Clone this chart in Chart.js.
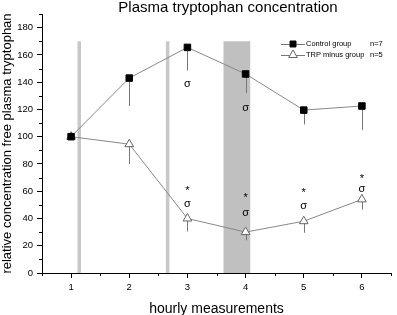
<!DOCTYPE html>
<html>
<head>
<meta charset="utf-8">
<script src="https://cdn.jsdelivr.net/npm/chart.js@4/dist/chart.umd.min.js"></script>
<style>
  html, body { margin: 0; padding: 0; background: #fff; }
  #wrap { width: 397px; height: 315px; }
</style>
</head>
<body>
<div id="wrap"><canvas id="myChart"></canvas></div>
<script>
const hours = [1, 2, 3, 4, 5, 6];
const controlMean = [100, 143, 165.5, 146, 119.5, 122.5];
const controlLow = [100, 122.5, 148.5, 132, 109, 105];
const trpMean = [100, 94.5, 40, 30, 38, 54];
const trpLow = [100, 80, 30.5, 24, 29.5, 46.5];

// grey shaded periods (x from / to, in hours)
const bandFrom = [1.11, 2.63, 3.62];
const bandTo = [1.17, 2.69, 4.08];
const bandTop = 170;

// significance marks
const sigmaX = [3, 4, 3, 4, 5, 6];
const sigmaY = [139, 121, 51, 44, 49.5, 62];
const starX = [3, 4, 5, 6];
const starY = [62, 57, 60.5, 71];

const yTicks = [0, 20, 40, 60, 80, 100, 120, 140, 160, 180];
const yMinor = [10, 30, 50, 70, 90, 110, 130, 150, 170, 190];
const xMinor = [0.5, 1.5, 2.5, 3.5, 4.5, 5.5, 6.5];

const FONT = "'Liberation Sans', Arial, sans-serif";
Chart.defaults.font.family = FONT;
Chart.defaults.color = '#000';

const ctx = document.getElementById('myChart');

const extrasPlugin = {
    id: 'extras',
    beforeDatasetsDraw(chart) {
        const { ctx, scales: { x, y } } = chart;
        ctx.save();
        // shaded bands
        bandFrom.forEach((f, i) => {
            ctx.fillStyle = i === 2 ? '#c0c0c0' : '#c8c8c8';
            const x0 = x.getPixelForValue(f), x1 = x.getPixelForValue(bandTo[i]);
            const y0 = y.getPixelForValue(bandTop), y1 = y.getPixelForValue(0);
            ctx.fillRect(x0, y0, x1 - x0, y1 - y0);
        });
        // downward error bars
        ctx.strokeStyle = '#777';
        ctx.lineWidth = 1;
        const drops = (means, lows) => {
            hours.forEach((h, i) => {
                if (lows[i] >= means[i]) return;
                const px = Math.round(x.getPixelForValue(h)) + 0.5;
                ctx.beginPath();
                ctx.moveTo(px, y.getPixelForValue(means[i]));
                ctx.lineTo(px, y.getPixelForValue(lows[i]));
                ctx.stroke();
            });
        };
        drops(controlMean, controlLow);
        drops(trpMean, trpLow);
        ctx.restore();
    },
    afterDraw(chart) {
        const { ctx, chartArea, scales: { x, y } } = chart;
        ctx.save();
        // minor ticks
        ctx.strokeStyle = '#000';
        ctx.lineWidth = 1;
        yMinor.forEach(v => {
            const py = Math.round(y.getPixelForValue(v)) + 0.5;
            ctx.beginPath();
            ctx.moveTo(chartArea.left - 3, py);
            ctx.lineTo(chartArea.left, py);
            ctx.stroke();
        });
        xMinor.forEach(v => {
            const px = Math.round(x.getPixelForValue(v)) + 0.5;
            ctx.beginPath();
            ctx.moveTo(px, chartArea.bottom);
            ctx.lineTo(px, chartArea.bottom + 3);
            ctx.stroke();
        });

        // sigma and star marks
        ctx.fillStyle = '#000';
        ctx.textAlign = 'center';
        ctx.textBaseline = 'middle';
        ctx.font = '11px ' + FONT;
        sigmaX.forEach((v, i) => {
            ctx.fillText('σ', x.getPixelForValue(v), y.getPixelForValue(sigmaY[i]));
        });
        starX.forEach((v, i) => {
            ctx.fillText('*', x.getPixelForValue(v), y.getPixelForValue(starY[i]) + 2.5);
        });

        // title
        ctx.font = '15px ' + FONT;
        ctx.fillText('Plasma tryptophan concentration', 228, 8);

        // legend
        const rows = [
            { label: 'Control group', n: 'n=7', style: 'rect', fill: '#000', stroke: '#000', r: 4.2 },
            { label: 'TRP minus group', n: 'n=5', style: 'triangle', fill: '#fff', stroke: '#666', r: 5 }
        ];
        ctx.font = '7.5px ' + FONT;
        ctx.textAlign = 'left';
        rows.forEach((row, i) => {
            const ly = 44 + i * 11;
            ctx.strokeStyle = '#777';
            ctx.beginPath();
            ctx.moveTo(281, ly + 0.5);
            ctx.lineTo(305, ly + 0.5);
            ctx.stroke();
            ctx.fillStyle = row.fill;
            ctx.strokeStyle = row.stroke;
            Chart.helpers.drawPoint(ctx, { pointStyle: row.style, radius: row.r, rotation: 0, borderWidth: 1 }, 293, ly);
            ctx.fillStyle = '#000';
            ctx.fillText(row.label, 306, ly);
            ctx.fillText(row.n, 370, ly);
        });
        ctx.restore();
    }
};

new Chart(ctx, {
    type: 'line',
    plugins: [extrasPlugin],
    data: {
        datasets: [{
            label: 'Control group',
            data: hours.map((h, i) => ({ x: h, y: controlMean[i] })),
            borderColor: '#888',
            borderWidth: 1,
            pointStyle: 'rect',
            pointRadius: 4.6,
            pointBackgroundColor: '#000',
            pointBorderColor: '#000',
            pointBorderWidth: 1
        }, {
            label: 'TRP minus group',
            data: hours.map((h, i) => ({ x: h, y: trpMean[i] })),
            borderColor: '#888',
            borderWidth: 1,
            pointStyle: 'triangle',
            pointRadius: 5,
            pointBackgroundColor: '#fff',
            pointBorderColor: '#666',
            pointBorderWidth: 1
        }]
    },
    options: {
        responsive: true,
        maintainAspectRatio: false,
        animation: false,
        layout: { padding: { top: 14, right: 1, left: 0, bottom: 0 } },
        plugins: {
            legend: { display: false },
            tooltip: { enabled: false }
        },
        scales: {
            x: {
                type: 'linear',
                min: 0.5,
                max: 6.5,
                afterBuildTicks: s => { s.ticks = hours.map(v => ({ value: v })); },
                ticks: {
                    font: { size: 9.5 },
                    padding: 3.5,
                    autoSkip: false,
                    maxRotation: 0
                },
                grid: { drawOnChartArea: false, tickLength: 5, tickColor: '#000' },
                border: { color: '#000' },
                title: { display: true, text: 'hourly measurements', font: { size: 14 }, padding: { top: 0, bottom: -3 } },
                afterFit: s => { s.height = 42; }
            },
            y: {
                min: 0,
                max: 190,
                afterBuildTicks: s => { s.ticks = yTicks.map(v => ({ value: v })); },
                ticks: {
                    font: { size: 9.5 },
                    padding: 4,
                    autoSkip: false
                },
                grid: { drawOnChartArea: false, tickLength: 5, tickColor: '#000' },
                border: { color: '#000' },
                title: { display: true, text: 'relative concentration free plasma tryptophan', font: { size: 13 }, padding: 0 },
                afterFit: s => { s.width = 42; }
            }
        }
    }
});
</script>
</body>
</html>
